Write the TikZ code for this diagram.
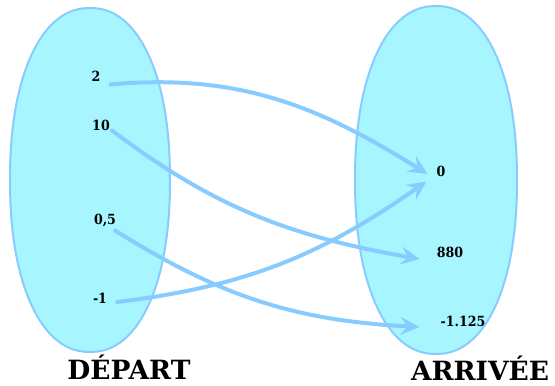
\documentclass[tikz,border=0pt]{standalone}
\usepackage{fontspec}
\setmainfont{DejaVu Serif}
\newfontfamily\eltfont{DejaVu Serif Condensed}
\usetikzlibrary{arrows.meta}
\definecolor{setfill}{HTML}{A6F5FF}
\definecolor{setline}{HTML}{88CCFF}

\begin{document}
\begin{tikzpicture}[x=1pt, y=-1pt, font=\eltfont\bfseries\fontsize{14}{16}\selectfont,
  elt/.style={inner sep=0pt},
  setbox/.style={setline, line width=2pt, fill=setfill},
  map/.style={setline, line width=4pt, line cap=round,
    -{Stealth[length=19pt, width=18pt, inset=7pt]}},
  title/.style={inner sep=0pt, font=\rmfamily\bfseries\fontsize{26.5}{30}\selectfont}]
  \useasboundingbox (0,0) rectangle (555,386);
  % the two sets (a slightly squarish oval)
  \draw[setbox] plot[domain=1:361, samples=91]
    ({90+80*sign(cos(\x))*abs(cos(\x))^0.91}, {180+172*sign(sin(\x))*abs(sin(\x))^0.91}) -- cycle;
  \draw[setbox] plot[domain=1:361, samples=91]
    ({436+81*sign(cos(\x))*abs(cos(\x))^0.91}, {180+174*sign(sin(\x))*abs(sin(\x))^0.91}) -- cycle;
  % elements of the start set
  \node[elt] (a1) at (96,76)  {2};
  \node[elt] (a2) at (101,125) {10};
  \node[elt] (a3) at (105,220) {0,5};
  \node[elt] (a4) at (100,298) {-1};
  % elements of the end set
  \node[elt] (b1) at (441,171) {0};
  \node[elt] (b2) at (450,252) {880};
  \node[elt] (b3) at (463,321) {-1.125};
  \node[title] (dep) at (129,367) {DÉPART};
  \node[title] (arr) at (480,368) {ARRIVÉE};
  % the arrows
  \draw[map] ([shift={(10,3)}]a1.south east) to[out=5, in=148]
    ([shift={(-9,3)}]b1.west);
  \draw[map] ([shift={(2,0)}]a2.south east) to[out=-37, in=170]
    ([shift={(-17,7)}]b2.west);
  \draw[map] ([shift={(-1,4)}]a3.south east) to[out=-32, in=177]
    ([shift={(-21,6)}]b3.west);
  \draw[map] ([shift={(10,4)}]a4.east) to[out=7, in=215]
    ([shift={(-10,5)}]b1.south west);
\end{tikzpicture}
\end{document}
